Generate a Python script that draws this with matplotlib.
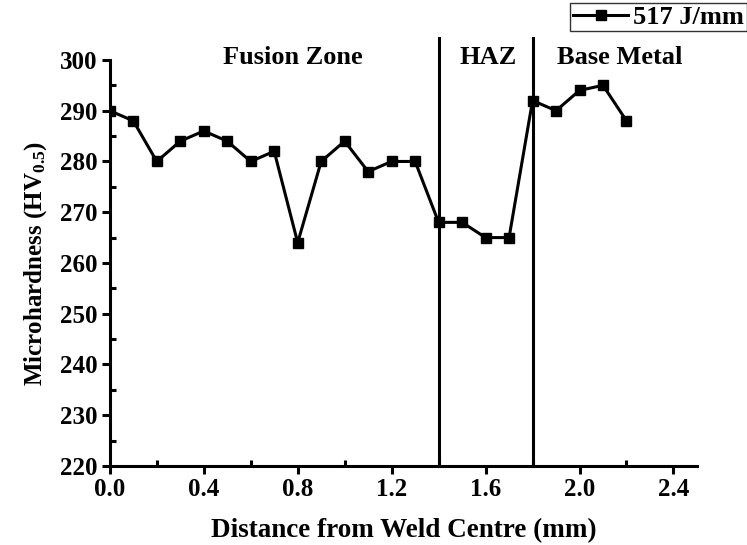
import matplotlib.pyplot as plt
from matplotlib.ticker import MultipleLocator

plt.rcParams['font.family'] = ['Liberation Serif', 'DejaVu Serif']
plt.rcParams['font.weight'] = 'bold'
plt.rcParams['mathtext.fontset'] = 'custom'
plt.rcParams['mathtext.rm'] = 'Liberation Serif:bold'
plt.rcParams['mathtext.it'] = 'Liberation Serif:bold'

distance = [0.0, 0.1, 0.2, 0.3, 0.4, 0.5, 0.6, 0.7, 0.8, 0.9, 1.0, 1.1,
            1.2, 1.3, 1.4, 1.5, 1.6, 1.7, 1.8, 1.9, 2.0, 2.1, 2.2]
hardness = [290, 288, 280, 284, 286, 284, 280, 282, 264, 280, 284, 278,
            280, 280, 268, 268, 265, 265, 292, 290, 294, 295, 288]
zone_bounds = [1.4, 1.8]
zone_names = ['Fusion Zone', 'HAZ', 'Base Metal']
zone_centres = [0.78, 1.61, 2.17]

fig = plt.figure(figsize=(7.47, 5.45), dpi=100)
ax = fig.add_axes([0.147, 0.145, 0.786, 0.745])

ax.plot(distance, hardness, color='black', lw=2.2, marker='s', ms=7,
        label='517 J/mm')
for xb in zone_bounds:
    ax.axvline(xb, ymin=0, ymax=1.055, color='black', lw=2.2, clip_on=False)
for name, xc in zip(zone_names, zone_centres):
    ax.text(xc, 300.5, name, ha='center', va='center', fontsize=19,
            fontweight='bold')

ax.set_xlim(0, 2.5)
ax.set_ylim(220, 300)
ax.xaxis.set_major_locator(MultipleLocator(0.4))
ax.xaxis.set_minor_locator(MultipleLocator(0.2))
ax.yaxis.set_major_locator(MultipleLocator(10))
ax.yaxis.set_minor_locator(MultipleLocator(5))
ax.xaxis.set_major_formatter(plt.FormatStrFormatter('%.1f'))
for s in ['top', 'right']:
    ax.spines[s].set_visible(False)
for s in ['left', 'bottom']:
    ax.spines[s].set_linewidth(2.2)
ax.tick_params(which='major', direction='out', length=6, width=2.2,
               labelsize=18, pad=3)
ax.tick_params(which='minor', direction='in', length=4, width=2.2)

ax.set_xlabel('Distance from Weld Centre (mm)', fontsize=19.5,
              fontweight='bold', labelpad=12)
ax.set_ylabel('Microhardness (HV$_{0.5}$)', fontsize=18, fontweight='bold',
              labelpad=8)

leg = fig.legend(loc='upper right', bbox_to_anchor=(1.0, 0.995),
                 fontsize=19, frameon=True, fancybox=False, handlelength=2.1,
                 borderpad=0.1, handletextpad=0.2, borderaxespad=0)
leg.get_frame().set_edgecolor('black')
leg.get_frame().set_linewidth(1)

fig.savefig('out.png', dpi=100)
